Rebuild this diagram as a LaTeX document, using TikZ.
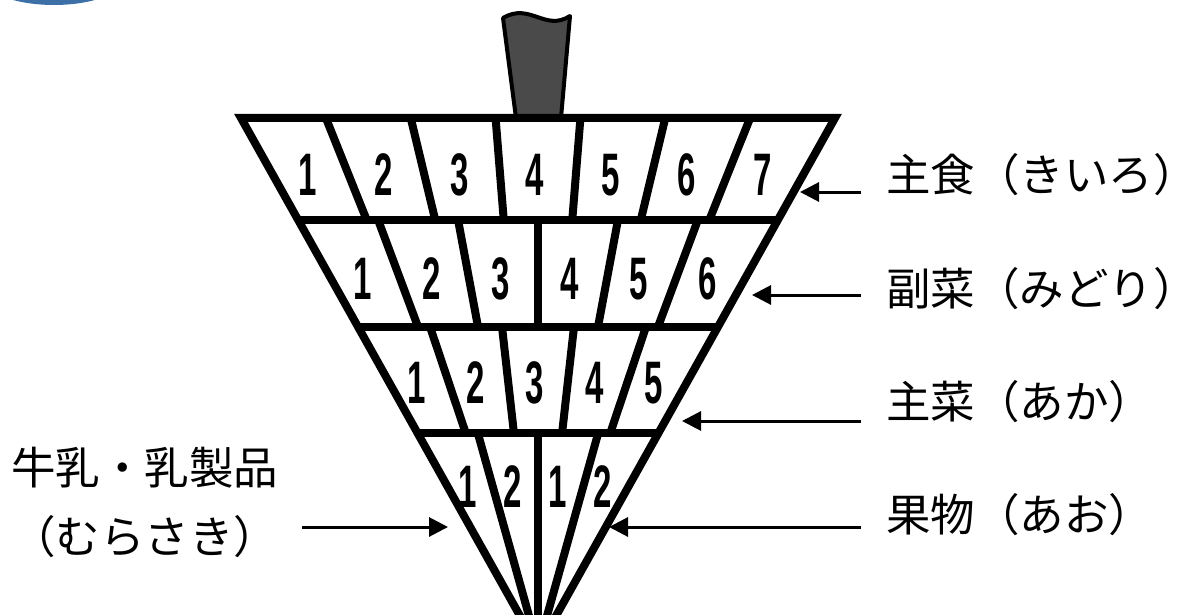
\documentclass[tikz,border=0pt]{standalone}
\usepackage{fontspec}
\setmainfont{Liberation Sans}
\newfontfamily\jpfont{Noto Sans CJK JP}
\newfontfamily\numfont[FakeStretch=0.55]{Liberation Sans}
\usetikzlibrary{arrows.meta}
\definecolor{handlegray}{HTML}{4A4A4A}
\definecolor{cornerblue}{HTML}{3E70A8}

\begin{document}
\begin{tikzpicture}[x=1pt,y=-1pt,
  edge/.style={line width=8pt},
  pointer/.style={line width=3pt,-{Triangle[length=19pt,width=19pt]}},
  num/.style={font=\numfont\bfseries\fontsize{60}{60}\selectfont,inner sep=0pt,xshift=-3pt},
  tag/.style={font=\jpfont\fontsize{44.5}{66}\selectfont,inner sep=0pt,anchor=base west}]
  \useasboundingbox (0,0) rectangle (1199,615);
  \def\cx{538}
  \def\topY{118}
  \def\tipY{648}
  \def\hw{297}
  \pgfmathsetmacro\slope{\hw/(\tipY-\topY)}

  % Blue corner
  \fill[cornerblue] (54,-25) ellipse [x radius=74, y radius=30];

  % Handle
  \filldraw[fill=handlegray, draw=black, line width=4pt, line join=round]
    (503,18) .. controls (530,2) and (545,32) .. (570,16) -- (561,118) -- (516,118) -- cycle;

  % Outer body
  \draw[edge] (\cx-\hw,\topY) -- (\cx+\hw,\topY) -- (\cx,\tipY) -- cycle;

  % Rows, dividers and numbers (last row counts 1,2,1,2)
  \foreach \yt/\yb/\n/\yn [count=\r] in {118/220/7/175, 220/327/6/279, 327/433/5/383, 433/648/4/487} {
    \pgfmathsetmacro\wt{\slope*(\tipY-\yt)}
    \pgfmathsetmacro\wb{\slope*(\tipY-\yb)}
    \pgfmathsetmacro\wn{\slope*(\tipY-\yn)}
    \pgfmathtruncatemacro\m{\n-1}
    \draw[edge] ({\cx-\wt},\yt) -- ({\cx+\wt},\yt);
    \foreach \k in {1,...,\m}
      \draw[edge] ({\cx-\wt+2*\wt*\k/\n},\yt) -- ({\cx-\wb+2*\wb*\k/\n},\yb);
    \foreach \k in {1,...,\n} {
      \pgfmathtruncatemacro\lbl{\r==4 ? mod(\k-1,2)+1 : \k}
      \node[num] (n\r-\k) at ({\cx-\wn+2*\wn*(\k-0.5)/\n},\yn) {\lbl};
    }
  }

  % Labels
  \node[tag] (shoku) at (886,191.5) {主食（きいろ）};
  \node[tag] (fukusai) at (886,305) {副菜（みどり）};
  \node[tag] (shusai) at (886,418.5) {主菜（あか）};
  \node[tag] (kudamono) at (886,531.5) {果物（あお）};
  \node[tag] (nyu) at (11,484.5) {牛乳・乳製品};
  \node[tag] (murasaki) at (11,553.5) {（むらさき）};

  % Arrows
  \coordinate (s1) at (861,192);  \coordinate (e1) at (800,192);
  \coordinate (s2) at (861,295);  \coordinate (e2) at (752,295);
  \coordinate (s3) at (861,421);  \coordinate (e3) at (682,421);
  \coordinate (s4) at (861,527);  \coordinate (e4) at (609,527);
  \coordinate (s5) at (302,527);  \coordinate (e5) at (448,527);
  \foreach \i in {1,...,5}
    \draw[pointer] (s\i) -- (e\i);
\end{tikzpicture}
\end{document}
